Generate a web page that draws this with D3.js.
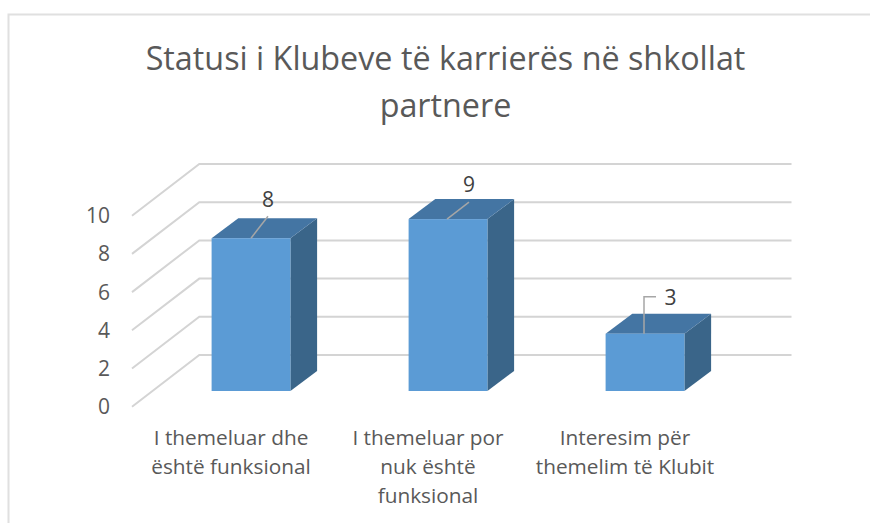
<!DOCTYPE html>
<html><head><meta charset="utf-8">
<script src="https://cdn.jsdelivr.net/npm/d3@7"></script>
<style>html,body{margin:0;padding:0;background:#fff}svg{display:block}text{font-family:"Open Sans",sans-serif}</style>
</head><body><svg id="c" width="870" height="523"></svg>
<script>
const categories = [["I themeluar dhe","është funksional"],["I themeluar por","nuk është","funksional"],["Interesim për","themelim të Klubit"]];
const values = [8,9,3];
const tickValues = [0,2,4,6,8,10];
const titleLines = ["Statusi i Klubeve të karrierës në shkollat","partnere"];

const svg = d3.select("#c");
const y = d3.scaleLinear().domain([0,10]).range([391,200]);
const x = d3.scaleBand().domain(d3.range(values.length)).range([152.5,743.5]).paddingInner(0.6).paddingOuter(0.3);
const barW = x.bandwidth();
const depth = {dx:26.7, dy:-20};
const frontWall = {x:132, y:15.7}, backWall = {x:199.3, y:-36}, backRight = 791.5;

// chart frame (left and top edges only are visible)
svg.append("path").attr("d","M8.5,523V14.5H870").attr("fill","none").attr("stroke","#e0e0e0").attr("stroke-width",2);

// title
svg.append("g").selectAll("text").data(titleLines).join("text")
  .attr("x",445.5).attr("y",(d,i)=>70+i*47).attr("text-anchor","middle")
  .attr("font-size",32.3).attr("fill","#595959").text(d=>d);

// gridlines
svg.append("g").selectAll("path").data(tickValues).join("path")
  .attr("d",d=>`M${frontWall.x},${y(d)+frontWall.y}L${backWall.x},${y(d)+backWall.y}H${backRight}`)
  .attr("fill","none").attr("stroke","#d4d4d4").attr("stroke-width",2);

// y labels
svg.append("g").selectAll("text").data(tickValues).join("text")
  .attr("x",110).attr("y",d=>y(d)+frontWall.y+7.5).attr("text-anchor","end")
  .attr("font-size",21).attr("fill","#595959").text(d=>d);

// bars
const bars = svg.append("g").selectAll("g").data(values).join("g");
bars.append("path").attr("fill","#3a6589")
  .attr("d",(d,i)=>{const r=x(i)+barW;return `M${r},${y(d)}l${depth.dx},${depth.dy}V${y(0)+depth.dy}L${r},${y(0)}Z`});
bars.append("path").attr("fill","#4475a3")
  .attr("d",(d,i)=>`M${x(i)},${y(d)}l${depth.dx},${depth.dy}h${barW}l${-depth.dx},${-depth.dy}Z`);
bars.append("rect").attr("fill","#5b9bd5")
  .attr("x",(d,i)=>x(i)).attr("y",d=>y(d)).attr("width",barW).attr("height",d=>y(0)-y(d));

// leader lines and value labels
const cx = i => x(i)+barW/2;
const leaders = [
  (d,i)=>`M${cx(i)},${y(d)}l17,-22`,
  (d,i)=>`M${cx(i)-1},${y(d)}l22,-17`,
  (d,i)=>`M${cx(i)-1},${y(d)}V${y(d)-37}h12`
];
bars.append("path").attr("fill","none").attr("stroke","#a6a6a6").attr("stroke-width",1.5)
  .attr("d",(d,i)=>leaders[i](d,i));
const labelPos = [[17,-31.5],[21,-27],[25.5,-29]];
bars.append("text").attr("font-size",21).attr("fill","#404040").attr("text-anchor","middle")
  .attr("x",(d,i)=>cx(i)+labelPos[i][0]).attr("y",(d,i)=>y(d)+labelPos[i][1]).text(d=>d);

// category labels
svg.append("g").selectAll("text").data(categories).join("text")
  .attr("text-anchor","middle").attr("font-size",20.8).attr("fill","#595959")
  .attr("transform",(d,i)=>`translate(${cx(i)-20},0)`)
  .each(function(d){d3.select(this).selectAll("tspan").data(d).join("tspan")
    .attr("x",0).attr("y",(t,j)=>445+j*29).text(t=>t)});
</script></body></html>
